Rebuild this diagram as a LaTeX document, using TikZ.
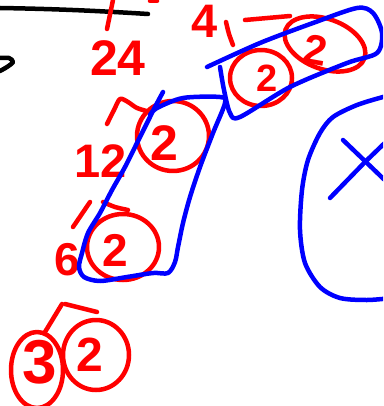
\documentclass[tikz,border=0pt]{standalone}
\usepackage{fontspec}
\setmainfont{Liberation Sans}
\begin{document}
\begin{tikzpicture}[x=1pt,y=-1pt,
  redline/.style={draw=red, line width=4.5pt, line cap=round, line join=round},
  blueline/.style={draw=blue, line width=4.5pt, line cap=round, line join=round},
  blackline/.style={draw=black, line width=4.5pt, line cap=round, line join=round},
  dg/.style={text=red, inner sep=0pt, font=\fontsize{#1}{#1}\selectfont\bfseries}]
\useasboundingbox (0,0) rectangle (383,406);
\clip (0,0) rectangle (383,406);
% black strokes
\draw[blackline] (0,8) .. controls (60,9) and (100,11) .. (148,14);
\draw[blackline] plot[smooth] coordinates {(0,58) (9,58) (13,62) (7,67) (0,71)};
% red partial strokes at top
\draw[redline] (113,0) -- (107,29);
\draw[redline] (150,1) -- (157,1);
% numbers
\node[dg=50] (n24) at (118,58) {24};
\node[dg=47] (n4) at (205,21) {4};
\node[dg=47] (n12) at (101,161) {12};
\node[dg=50] (d2a) at (164,143) {2};
\node[dg=46] (n6) at (67,260) {6};
\node[dg=46] (d2b) at (115,250) {2};
\node[dg=62] (d3) at (40,362) {3};
\node[dg=48] (d2c) at (90,355) {2};
\node[dg=38] (d2d) at (267,78) {2};
\node[dg=42,rotate=-10] (d2e) at (316,50) {2};
% red circles
\draw[redline] (173,136) ellipse [x radius=36, y radius=35];
\draw[redline] (123,247) ellipse [x radius=36, y radius=33];
\draw[redline] (37,370) ellipse [x radius=26, y radius=38];
\draw[redline] (96,355) ellipse [x radius=33, y radius=35];
\draw[redline] (261,78) ellipse [x radius=31, y radius=28];
\draw[redline, rotate around={-20:(325,44)}] (325,44) ellipse [x radius=42, y radius=25];
% red branches
\draw[redline] plot[smooth] coordinates {(107,124) (114,110) (120,99) (128,102) (137,108) (150,112)};
\draw[redline] (73,227) -- (90,202);
\draw[redline] plot[smooth] coordinates {(103,202) (115,207) (128,210)};
\draw[redline] (45,332) -- (62,304);
\draw[redline] (65,304) -- (97,312);
\draw[redline] plot[smooth] coordinates {(226,22) (229,34) (233,45)};
\draw[redline] (245,20) -- (290,16);
% blue enclosures
\draw[blueline] plot[smooth] coordinates {(207,67) (260,43) (313,23) (357,8) (373,13) (382,33) (377,53) (347,63) (290,87) (240,117) (230,113) (224,90) (220,67)};
\draw[blueline] plot[smooth] coordinates {(163,92) (155,107) (147,123) (137,143) (125,167) (112,190) (100,213) (88,233) (82,253) (79,267) (84,277) (100,281) (127,277) (153,273) (168,273) (175,262) (178,247) (183,223) (190,197) (200,167) (213,133) (225,103) (220,97) (183,98) (157,108) (150,115)};
\draw[blueline] plot[smooth] coordinates {(392,95) (383,97) (357,105) (333,117) (320,133) (308,160) (302,190) (300,230) (305,263) (320,287) (340,298) (367,300) (392,298)};
\draw[blueline] (343,140) -- (392,187);
\draw[blueline] (330,198) -- (365,162) -- (392,136);
\end{tikzpicture}
\end{document}
